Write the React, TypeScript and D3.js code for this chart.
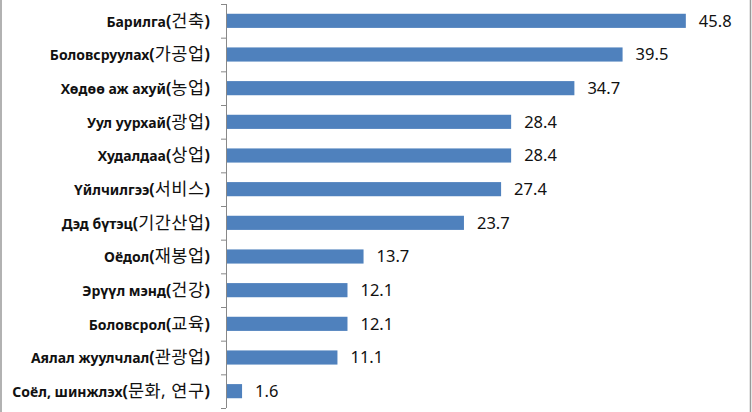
import React from "react";
import * as d3 from "d3";

const categories = [
  "Барилга(건축)",
  "Боловсруулах(가공업)",
  "Хөдөө аж ахуй(농업)",
  "Уул уурхай(광업)",
  "Худалдаа(상업)",
  "Үйлчилгээ(서비스)",
  "Дэд бүтэц(기간산업)",
  "Оёдол(재봉업)",
  "Эрүүл мэнд(건강)",
  "Боловсрол(교육)",
  "Аялал жуулчлал(관광업)",
  "Соёл, шинжлэх(문화, 연구)",
];
const values = [45.8, 39.5, 34.7, 28.4, 28.4, 27.4, 23.7, 13.7, 12.1, 12.1, 11.1, 1.6];

const W = 752;
const H = 412;
const x0 = 226;
const font = "'Noto Sans', 'Noto Sans CJK KR', sans-serif";

export default function App() {
  const x = d3.scaleLinear().domain([0, 50]).range([x0, x0 + 502]);
  const y = d3.scaleBand<string>().domain(categories).range([4, 408]).paddingInner(0.58).paddingOuter(0.29);
  const step = y.step();
  return (
    <svg width={W} height={H} style={{ position: "absolute", left: 0, top: 0, background: "#fff" }}>
      <rect x={0} y={0} width={W} height={H} fill="#fff" />
      <line x1={1} x2={1} y1={0} y2={H} stroke="#999" strokeWidth={1.5} />
      <line x1={750.5} x2={750.5} y1={0} y2={H} stroke="#999" strokeWidth={1.5} />
      {categories.map((c, i) => {
        const k = c.indexOf("(");
        const main = c.slice(0, k);
        const sub = c.slice(k + 1, c.length - 1);
        return (
          <g key={c}>
            <rect
              x={x(0)}
              y={y(c)!}
              width={x(values[i]) - x(0)}
              height={y.bandwidth()}
              fill="#4f81bd"
            />
            <text
              x={x(values[i]) + 13}
              y={y(c)! + y.bandwidth() / 2}
              dy="0.36em"
              fontFamily={font}
              fontSize={16.5}
              fill="#111"
            >
              {values[i].toFixed(1)}
            </text>
            <text
              x={210}
              y={y(c)! + y.bandwidth() / 2}
              dy="0.36em"
              textAnchor="end"
              fontFamily={font}
              fill="#111"
            >
              <tspan fontSize={14} fontWeight="bold">{main}</tspan>
              <tspan fontSize={16} fontWeight="bold">(</tspan>
              <tspan fontSize={17.5} fontWeight="normal" letterSpacing={0.5}>{sub}</tspan>
              <tspan fontSize={16} fontWeight="bold">)</tspan>
            </text>
          </g>
        );
      })}
      <line x1={x0 + 0.5} x2={x0 + 0.5} y1={4} y2={408} stroke="#888" />
      {d3.range(categories.length + 1).map((i) => (
        <line
          key={i}
          x1={x0 - 5}
          x2={x0}
          y1={4 + i * step + 0.5}
          y2={4 + i * step + 0.5}
          stroke="#888"
        />
      ))}
    </svg>
  );
}
